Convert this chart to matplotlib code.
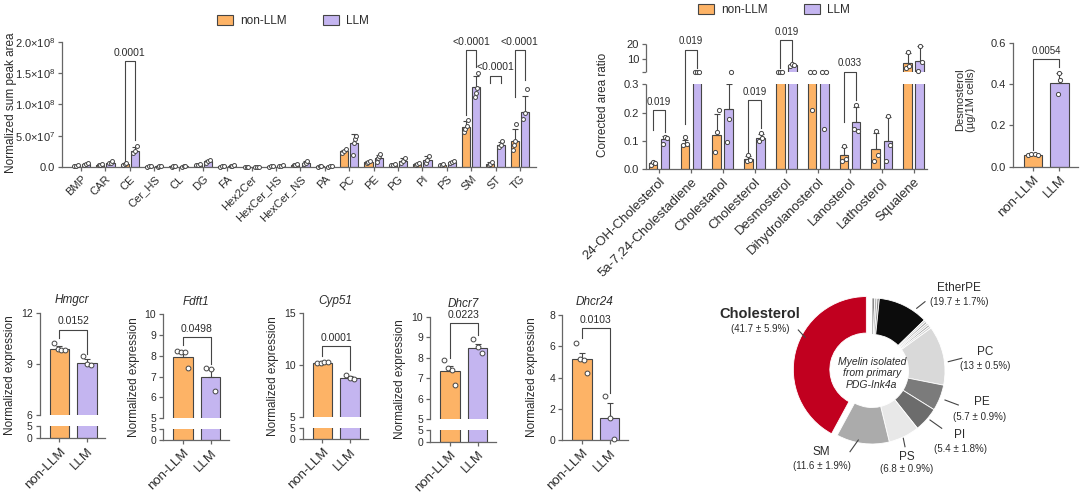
import numpy as np
import matplotlib
matplotlib.use('Agg')
import matplotlib.pyplot as plt
from matplotlib.patches import Patch

# ---------------- DATA ----------------
# Panel A: lipid classes (values in units of 1e7)
lipid_classes = ['BMP', 'CAR', 'CE', 'Cer_HS', 'CL', 'DG', 'FA', 'Hex2Cer', 'HexCer_HS',
                 'HexCer_NS', 'PA', 'PC', 'PE', 'PG', 'PI', 'PS', 'SM', 'ST', 'TG']
lip_non_mean = [0.2, 0.4, 0.5, 0.1, 0.1, 0.4, 0.1, 0.05, 0.1, 0.4, 0.1, 2.5, 0.8, 0.4, 0.5, 0.4, 6.4, 0.5, 4.2]
lip_llm_mean = [0.5, 0.7, 2.6, 0.1, 0.1, 0.9, 0.2, 0.05, 0.2, 0.7, 0.1, 3.9, 1.5, 1.0, 1.2, 0.8, 12.8, 3.6, 8.8]
lip_non_err = [0.05, 0.05, 0.1, 0.03, 0.03, 0.1, 0.03, 0.02, 0.03, 0.1, 0.03, 0.3, 0.15, 0.1, 0.15, 0.1, 0.9, 0.25, 1.9]
lip_llm_err = [0.15, 0.15, 0.6, 0.03, 0.03, 0.25, 0.1, 0.02, 0.1, 0.25, 0.05, 1.3, 0.5, 0.45, 0.5, 0.2, 1.7, 0.45, 2.6]
lip_non_pts = [[0.15, 0.2, 0.25], [0.35, 0.4, 0.5], [0.4, 0.5, 0.6], [0.05, 0.1, 0.1], [0.05, 0.1, 0.1],
               [0.3, 0.4, 0.5], [0.05, 0.1, 0.15], [0.03, 0.05, 0.05], [0.05, 0.1, 0.1], [0.3, 0.4, 0.5],
               [0.05, 0.1, 0.1], [2.3, 2.6, 2.9], [0.7, 0.8, 1.0], [0.3, 0.4, 0.5], [0.4, 0.5, 0.7],
               [0.3, 0.4, 0.5], [5.6, 6.1, 6.5, 7.5], [0.3, 0.5, 0.8], [2.8, 3.6, 4.2, 6.8]]
lip_llm_pts = [[0.4, 0.5, 0.7], [0.6, 0.7, 0.9], [2.2, 2.5, 3.3], [0.05, 0.1, 0.15], [0.05, 0.1, 0.1],
               [0.7, 0.9, 1.2], [0.1, 0.2, 0.3], [0.03, 0.05, 0.08], [0.1, 0.2, 0.3], [0.5, 0.7, 1.0],
               [0.05, 0.1, 0.15], [2.0, 3.8, 4.5, 5.0], [0.8, 1.4, 1.7, 2.1], [0.6, 1.0, 1.5], [0.7, 1.2, 1.7],
               [0.6, 0.8, 1.0], [11.2, 11.8, 12.6, 15.1], [3.2, 3.6, 4.1], [7.6, 8.6, 12.5]]
lip_yticks = [0, 5, 10, 15, 20]
lip_yticklabels = ['0.0', '5.0×10$^{7}$', '1.0×10$^{8}$', '1.5×10$^{8}$', '2.0×10$^{8}$']
lip_pvals = ['0.0001', '<0.0001', '<0.0001', '<0.0001']

# Panel B: sterols (corrected area ratio)
sterols = ['24-OH-Cholesterol', '5a-7,24-Cholestadiene', 'Cholestanol', 'Cholesterol', 'Desmosterol',
           'Dihydrolanosterol', 'Lanosterol', 'Lathosterol', 'Squalene']
st_non_mean = [0.02, 0.09, 0.12, 0.035, 1.45, 1.0, 0.048, 0.072, 7.3]
st_llm_mean = [0.105, 1.42, 0.214, 0.11, 5.9, 1.0, 0.165, 0.1, 8.9]
st_non_err = [0.005, 0.013, 0.075, 0.01, 0.05, 0.0, 0.03, 0.055, 7.0]
st_llm_err = [0.012, 0.02, 0.12, 0.015, 0.3, 0.0, 0.055, 0.085, 10.0]
st_non_pts = [[0.015, 0.025, 0.02], [0.085, 0.112, 0.09], [0.061, 0.132, 0.208], [0.03, 0.05, 0.033],
              [1.4, 1.45, 1.5], [1.45, 0.21, 1.4], [0.03, 0.08, 0.035], [0.03, 0.133, 0.05], [4.2, 15.0, 5.0]]
st_llm_pts = [[0.09, 0.115, 0.11], [1.4, 1.4, 1.45], [0.096, 0.176, 1.0], [0.1, 0.128, 0.11],
              [5.5, 6.3, 6.0], [1.45, 0.14, 1.4], [0.14, 0.225, 0.135], [0.028, 0.187, 0.085], [1.7, 19.0, 7.7]]
st_yticks = [0, 0.1, 0.2, 0.3, 1, 10, 20]
st_yticklabels = ['0.0', '0.1', '0.2', '0.3', '', '10', '20']

# Panel C: desmosterol
groups = ['non-LLM', 'LLM']
desmo_mean = [0.058, 0.405]
desmo_err = [0.003, 0.047]
desmo_pts = [[0.058, 0.062, 0.062, 0.058], [0.35, 0.452, 0.42]]
desmo_p = '0.0054'

# Bottom: gene expression
genes = ['Hmgcr', 'Fdft1', 'Cyp51', 'Dhcr7', 'Dhcr24']
gene_non_mean = [9.85, 7.95, 10.2, 7.37, 5.17]
gene_llm_mean = [9.06, 7.0, 8.75, 8.49, 1.4]
gene_non_err = [0.2, 0.2, 0.05, 0.25, 0.4]
gene_llm_err = [0.25, 0.35, 0.15, 0.2, 1.0]
gene_non_pts = [[10.2, 9.85, 9.8, 9.8], [8.25, 8.2, 8.2, 7.4], [10.15, 10.2, 10.25, 10.3],
                [7.9, 7.5, 7.4, 6.67], [6.2, 5.2, 5.1, 4.3]]
gene_llm_pts = [[9.45, 9.0, 8.95], [7.4, 7.35, 6.3], [9.0, 8.7, 8.6], [8.9, 8.5, 8.25], [2.8, 1.4, 0.05]]
gene_pvals = ['0.0152', '0.0498', '0.0001', '0.0223', '0.0103']
gene_break = [6, 5, 5, 5, None]
gene_top = [12, 10, 15, 10, 8]
gene_upticks = [[6, 9, 12], [5, 6, 7, 8, 9, 10], [5, 10, 15], [5, 6, 7, 8, 9, 10], [0, 2, 4, 6, 8]]

# Donut: myelin lipid composition (share of circle, clockwise from top)
donut_sizes = [0.6, 0.5, 0.5, 11.0, 0.45, 0.45, 0.45, 0.45, 0.45, 13.0, 5.7, 5.4, 6.8, 11.6, 41.7]
donut_labels = ['EtherPE', 'PC', 'PE', 'PI', 'PS', 'SM', 'Cholesterol']
donut_label_pct = ['(19.7 ± 1.7%)', '(13 ± 0.5%)', '(5.7 ± 0.9%)', '(5.4 ± 1.8%)', '(6.8 ± 0.9%)',
                   '(11.6 ± 1.9%)', '(41.7 ± 5.9%)']

# ---------------- STYLE ----------------
plt.rcParams['font.family'] = ['Liberation Sans', 'DejaVu Sans']
plt.rcParams['mathtext.default'] = 'regular'
plt.rcParams['font.size'] = 7.5
plt.rcParams['axes.linewidth'] = 0.9
SPINE = '#666666'
EDGE = '#454545'
TXT = '#2b2b2b'
plt.rcParams['axes.edgecolor'] = SPINE
plt.rcParams['xtick.color'] = SPINE
plt.rcParams['ytick.color'] = SPINE
plt.rcParams['xtick.labelcolor'] = TXT
plt.rcParams['ytick.labelcolor'] = TXT
plt.rcParams['text.color'] = TXT
plt.rcParams['axes.labelcolor'] = TXT
plt.rcParams['xtick.major.size'] = 3
plt.rcParams['ytick.major.size'] = 3
plt.rcParams['xtick.major.width'] = 0.9
plt.rcParams['ytick.major.width'] = 0.9
plt.rcParams['xtick.major.pad'] = 2
plt.rcParams['ytick.major.pad'] = 2
ORANGE = '#FDB366'
PURPLE = '#C4B5F0'

W, H = 1080.0, 494.0
fig = plt.figure(figsize=(10.8, 4.94), dpi=100)


def add_ax(l, r, t, b):
    ax = fig.add_axes([l / W, 1 - b / H, (r - l) / W, (b - t) / H])
    ax.spines['top'].set_visible(False)
    ax.spines['right'].set_visible(False)
    ax.patch.set_alpha(0)
    return ax


def draw_group(ax, x, mean, err, pts, color, width, spread, s=9, clip=False):
    ax.bar(x, mean, width, color=color, edgecolor=EDGE, linewidth=0.8, zorder=2)
    if err > 0:
        ax.errorbar(x, mean, yerr=[[0], [err]], fmt='none', ecolor=EDGE, elinewidth=0.8,
                    capsize=2.2, capthick=0.8, zorder=3)
    n = len(pts)
    offs = np.linspace(-spread, spread, n) if n > 1 else np.zeros(1)
    ax.scatter(x + offs, pts, s=s, facecolor='white', edgecolor=EDGE, linewidth=0.7,
               zorder=4, clip_on=clip)


def bracket(ax, x1, x2, top, y1, y2, label, fs=7, off=2.5):
    ax.plot([x1, x1, x2, x2], [y1, top, top, y2], color=EDGE, lw=0.8, clip_on=False, zorder=5)
    ax.annotate(label, xy=((x1 + x2) / 2, top), xytext=(0, off), textcoords='offset points',
                ha='center', va='bottom', fontsize=fs, annotation_clip=False)


def legend_at(cx, cy):
    handles = [Patch(facecolor=ORANGE, edgecolor=EDGE, linewidth=0.8),
               Patch(facecolor=PURPLE, edgecolor=EDGE, linewidth=0.8)]
    fig.legend(handles, groups, loc='center', bbox_to_anchor=(cx / W, 1 - cy / H), ncol=2,
               frameon=False, fontsize=8.5, handlelength=1.4, handleheight=0.9,
               columnspacing=3.0, handletextpad=0.6, borderpad=0, borderaxespad=0)


def make_pw(xs, ys):
    xs = np.asarray(xs, float)
    ys = np.asarray(ys, float)
    s_hi = (ys[-1] - ys[-2]) / (xs[-1] - xs[-2])
    s_lo = (ys[1] - ys[0]) / (xs[1] - xs[0])

    def f(v):
        v = np.asarray(v, float)
        out = np.interp(v, xs, ys)
        out = np.where(v > xs[-1], ys[-1] + (v - xs[-1]) * s_hi, out)
        out = np.where(v < xs[0], ys[0] + (v - xs[0]) * s_lo, out)
        return out
    return f


# ---------------- PANEL A ----------------
axA = add_ax(62, 536, 42, 167)
xA = np.arange(len(lipid_classes))
wA, dA = 0.33, 0.21
for i in range(len(lipid_classes)):
    draw_group(axA, xA[i] - dA, lip_non_mean[i], lip_non_err[i], lip_non_pts[i], ORANGE, wA, 0.07, s=8)
    draw_group(axA, xA[i] + dA, lip_llm_mean[i], lip_llm_err[i], lip_llm_pts[i], PURPLE, wA, 0.07, s=8)
axA.set_xlim(-0.78, 18.66)
axA.set_ylim(0, 20)
axA.set_yticks(lip_yticks)
axA.set_yticklabels(lip_yticklabels, fontsize=8)
axA.set_xticks(xA)
axA.set_xticklabels(lipid_classes, rotation=45, ha='right', rotation_mode='anchor', fontsize=8)
fig.text(11 / W, 1 - 103 / H, 'Normalized sum peak area', rotation=90, ha='center', va='center', fontsize=8.5)
ce, sm, st, tg = 2, 16, 17, 18
bracket(axA, ce - dA, ce + dA, 16.9, 1.0, 4.3, lip_pvals[0], fs=7.5)
bracket(axA, sm - dA, sm + dA, 18.7, 8.3, 16.0, lip_pvals[1], fs=7.5)
bracket(axA, st - dA, st + dA, 14.6, 13.4, 13.4, lip_pvals[2], fs=7.5)
bracket(axA, tg - dA, tg + dA, 18.7, 11.2, 13.9, lip_pvals[3], fs=7.5)
legend_at(293, 21)

# ---------------- PANEL B ----------------
axB = add_ax(646, 927, 44.3, 169)
fwd = make_pw([0.0, 0.3, 1.0, 20.0], [0.0, 84.7, 96.7, 124.7])
inv = make_pw([0.0, 84.7, 96.7, 124.7], [0.0, 0.3, 1.0, 20.0])
axB.set_yscale('function', functions=(fwd, inv))
xB = np.arange(len(sterols))
wB, dB = 0.27, 0.19
for i in range(len(sterols)):
    draw_group(axB, xB[i] - dB, st_non_mean[i], st_non_err[i], st_non_pts[i], ORANGE, wB, 0.06)
    draw_group(axB, xB[i] + dB, st_llm_mean[i], st_llm_err[i], st_llm_pts[i], PURPLE, wB, 0.06)
axB.set_xlim(-0.41, 8.42)
axB.set_ylim(0, 20)
axB.axhspan(0.3, 1.0, facecolor='white', edgecolor='none', zorder=3.5)
axB.spines['left'].set_visible(False)
for seg in ([0, 0.3], [1, 20]):
    axB.plot([0, 0], seg, transform=axB.get_yaxis_transform(), color=SPINE, lw=0.9,
             clip_on=False, zorder=6, solid_capstyle='butt')
axB.set_yticks(st_yticks)
axB.set_yticklabels(st_yticklabels, fontsize=8)
axB.yaxis.set_minor_locator(matplotlib.ticker.NullLocator())
axB.set_xticks(xB)
axB.set_xticklabels(sterols, rotation=45, ha='right', rotation_mode='anchor', fontsize=9.5)
fig.text(603 / W, 1 - 105 / H, 'Corrected area ratio', rotation=90, ha='center', va='center', fontsize=8.5)
bracket(axB, 0 - dB, 0 + dB, 0.208, 0.138, 0.13, '0.019')
bracket(axB, 1 - dB, 1 + dB, 16.2, 0.161, 4.0, '0.019')
bracket(axB, 3 - dB, 3 + dB, 0.244, 0.06, 0.145, '0.019')
bracket(axB, 4 - dB, 4 + dB, 22.9, 4.0, 8.4, '0.019')
bracket(axB, 6 - dB, 6 + dB, 1.4, 0.167, 0.244, '0.033')
legend_at(774, 10)

# ---------------- PANEL C ----------------
axC = add_ax(1013, 1078, 42.7, 166.7)
xC = np.arange(2)
draw_group(axC, xC[0], desmo_mean[0], desmo_err[0], desmo_pts[0], ORANGE, 0.72, 0.2)
draw_group(axC, xC[1], desmo_mean[1], desmo_err[1], desmo_pts[1], PURPLE, 0.72, 0.04)
axC.set_xlim(-0.76, 1.71)
axC.set_ylim(0, 0.6)
axC.set_yticks([0, 0.2, 0.4, 0.6])
axC.set_yticklabels(['0.0', '0.2', '0.4', '0.6'], fontsize=8)
axC.set_xticks(xC)
axC.set_xticklabels(groups, rotation=45, ha='right', rotation_mode='anchor', fontsize=9.5)
fig.text(966 / W, 1 - 100 / H, 'Desmosterol\n(µg/1M cells)', rotation=90, ha='center', va='center',
         fontsize=8, linespacing=1.1)
bracket(axC, 0, 1, 0.52, 0.08, 0.48, desmo_p)

# ---------------- BOTTOM: GENES ----------------
gene_layout = [(39.5, 312.7, 415.0, 425.7, 438.3),
               (163.0, 314.3, 418.0, 428.5, 440.0),
               (302.5, 313.3, 416.7, 428.3, 439.0),
               (430.0, 316.7, 419.3, 430.0, 441.7),
               (562.0, 315.0, None, None, 440.0)]
gene_brackets = [(11.0, 10.5, 9.6), (8.9, 8.5, 7.6), (11.8, 10.9, 9.5), (9.68, 8.0, 9.1), (7.16, 6.5, 3.0)]
unit = 27.7
xl = (-0.72, 1.65)
for g in range(len(genes)):
    sx, top, ub, lt, bot = gene_layout[g]
    right = sx + (xl[1] - xl[0]) * unit
    xs = np.arange(2)
    if gene_break[g] is None:
        axU = add_ax(sx, right, top, bot)
        axL = axU
        axU.set_ylim(0, gene_top[g])
    else:
        axU = add_ax(sx, right, top, ub)
        axL = add_ax(sx, right, lt, bot)
        axU.set_ylim(gene_break[g], gene_top[g])
        axL.set_ylim(0, 5)
        axU.spines['bottom'].set_visible(False)
        axU.set_xticks([])
        axL.set_yticks([0, 5])
        axL.set_yticklabels(['0', '5'], fontsize=7.5)
        axL.set_xlim(*xl)
        axL.bar(xs, [gene_non_mean[g], gene_llm_mean[g]], 0.7, color=[ORANGE, PURPLE],
                edgecolor=EDGE, linewidth=0.8, zorder=2)
    draw_group(axU, xs[0], gene_non_mean[g], gene_non_err[g], gene_non_pts[g], ORANGE, 0.7, 0.2, s=12)
    draw_group(axU, xs[1], gene_llm_mean[g], gene_llm_err[g], gene_llm_pts[g], PURPLE, 0.7, 0.15, s=12)
    axU.set_xlim(*xl)
    axU.set_yticks(gene_upticks[g])
    axU.set_yticklabels([str(v) for v in gene_upticks[g]], fontsize=7.5)
    axL.set_xticks(xs)
    axL.set_xticklabels(groups, rotation=45, ha='right', rotation_mode='anchor', fontsize=9.5)
    axU.set_title(genes[g], fontstyle='italic', fontsize=8.5, pad=7)
    bt, b1, b2 = gene_brackets[g]
    bracket(axU, 0, 1, bt, b1, b2, gene_pvals[g], fs=7.5)
    fig.text((sx - 29.5) / W, 1 - ((top + bot) / 2) / H, 'Normalized expression', rotation=90,
             ha='center', va='center', fontsize=8.5)

# ---------------- DONUT ----------------
cxp, cyp, R = 872.0, 371.0, 73.0
axD = fig.add_axes([740 / W, 0, 340 / W, 224 / H])
donut_colors = ['#8a8a8a', '#b5b5b5', '#8a8a8a', '#0c0c0c', '#cfcfcf', '#a5a5a5', '#cfcfcf', '#a5a5a5',
                '#cfcfcf', '#d9d9d9', '#7b7b7b', '#6c6c6c', '#e8e8e8', '#ababab', '#c1001f']
explode = [0] * (len(donut_sizes) - 1) + [0.08]
axD.pie(donut_sizes, colors=donut_colors, startangle=90, counterclock=False, explode=explode,
        radius=1.0, wedgeprops=dict(width=0.5, edgecolor='white', linewidth=0.6))
axD.set_xlim((740 - cxp) / R, (1080 - cxp) / R)
axD.set_ylim((cyp - 494) / R, (cyp - 270) / R)
axD.set_aspect('auto')
axD.axis('off')


def P(x, y):
    return ((x - cxp) / R, (cyp - y) / R)


def dlabel(name, pct, xy_name, xy_pct, line, bold=False, fs=8.5):
    axD.text(*P(*xy_name), name, ha='center', va='center', fontsize=fs,
             fontweight='bold' if bold else 'normal')
    axD.text(*P(*xy_pct), pct, ha='center', va='center', fontsize=7)
    (x1, y1), (x2, y2) = P(*line[0]), P(*line[1])
    axD.plot([x1, x2], [y1, y2], color='#444444', lw=0.8)


dlabel(donut_labels[0], donut_label_pct[0], (959, 288), (959, 302), [(916.7, 308.3), (925, 301.7)])
dlabel(donut_labels[1], donut_label_pct[1], (985, 352), (985, 366), [(948.3, 361.7), (961.7, 358.3)])
dlabel(donut_labels[2], donut_label_pct[2], (981.7, 402), (980, 417), [(945, 400), (958.3, 405)])
dlabel(donut_labels[3], donut_label_pct[3], (960, 435), (960, 448.5), [(930, 420), (941.7, 428.3)])
dlabel(donut_labels[4], donut_label_pct[4], (906.7, 456.7), (906.7, 468.5), [(903.3, 438.3), (905, 446.7)])
dlabel(donut_labels[5], donut_label_pct[5], (821.7, 451.7), (821.7, 466), [(858.3, 440), (850, 451.7)])
dlabel(donut_labels[6], donut_label_pct[6], (760, 314), (760, 329), [(798.3, 330), (805, 337.3)],
       bold=True, fs=10.5)
axD.text(*P(871.7, 373.3), 'Myelin isolated\nfrom primary\nPDG-Ink4a', ha='center', va='center',
         fontsize=7.5, fontstyle='italic', linespacing=1.15)

fig.savefig('out.png', dpi=100)
